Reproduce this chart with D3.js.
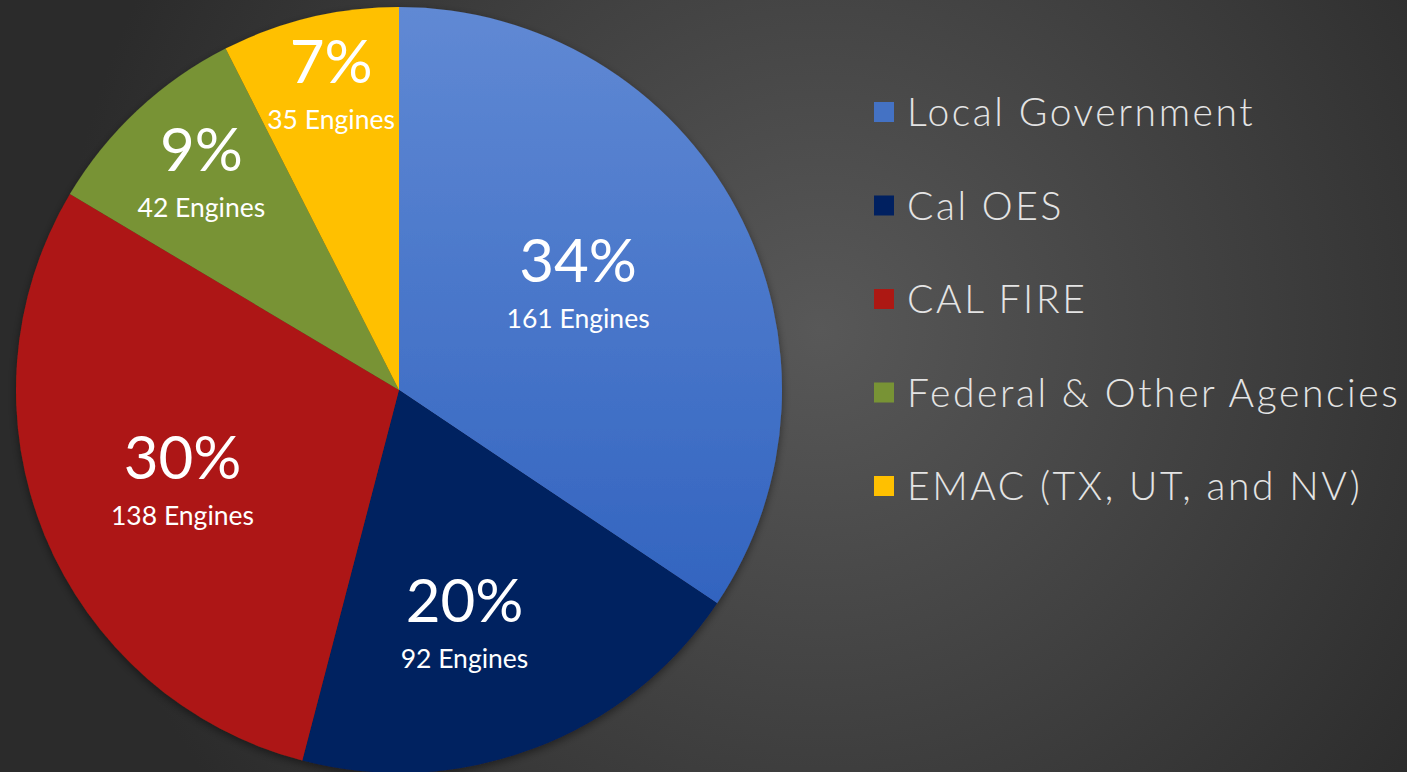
<!DOCTYPE html>
<html>
<head>
<meta charset="utf-8">
<script src="https://cdn.jsdelivr.net/npm/d3@7"></script>
<style>
    html, body { margin: 0; padding: 0; background: #333; overflow: hidden; }
    #chart-area { width: 1407px; height: 772px; }
</style>
</head>
<body>
<div id="chart-area"></div>
<script>

// Engines deployed by agency type
let categories = ["Local Government", "Cal OES", "CAL FIRE", "Federal & Other Agencies", "EMAC (TX, UT, and NV)"];
let engines = [161, 92, 138, 42, 35];
let percentLabels = ["34%", "20%", "30%", "9%", "7%"];
let colors = ["#4472c4", "#002060", "#ad1813", "#789335", "#ffc000"];

// label placement (fraction of radius, angle nudge in degrees) - hand tuned
let labelRadius = [0.546, 0.629, 0.611, 0.770, 0.822];
let labelNudge = [-3, 5, 0, 1, 1];

let width = 1407, height = 772;
let cx = 399, cy = 390, radius = 383;

let svg = d3.select("#chart-area").append("svg")
    .attr("width", width)
    .attr("height", height);

let defs = svg.append("defs");

// background gradient
let bg = defs.append("radialGradient")
    .attr("id", "bg-grad")
    .attr("gradientUnits", "userSpaceOnUse")
    .attr("cx", 820).attr("cy", 330).attr("r", 760);
bg.append("stop").attr("offset", "0%").attr("stop-color", "#585858");
bg.append("stop").attr("offset", "100%").attr("stop-color", "#2b2b2b");

svg.append("rect")
    .attr("width", width)
    .attr("height", height)
    .attr("fill", "url(#bg-grad)");

// blue slice has a soft vertical gradient
let blueGrad = defs.append("linearGradient")
    .attr("id", "blue-grad")
    .attr("gradientUnits", "userSpaceOnUse")
    .attr("x1", 0).attr("y1", -radius).attr("x2", 0).attr("y2", radius * 0.6);
blueGrad.append("stop").attr("offset", "0%").attr("stop-color", "#6089d4");
blueGrad.append("stop").attr("offset", "100%").attr("stop-color", "#3163bf");

let shadow = defs.append("filter")
    .attr("id", "pie-shadow")
    .attr("x", "-10%").attr("y", "-10%").attr("width", "120%").attr("height", "120%");
shadow.append("feDropShadow")
    .attr("dx", 0).attr("dy", 3).attr("stdDeviation", 4)
    .attr("flood-color", "#000").attr("flood-opacity", 0.45);

let pie = d3.pie()
    .sort(null)
    .value(d => d);

let arc = d3.arc()
    .innerRadius(0)
    .outerRadius(radius);

let arcs = pie(engines);

let g = svg.append("g")
    .attr("transform", "translate(" + cx + "," + cy + ")");

g.append("g")
    .attr("filter", "url(#pie-shadow)")
    .selectAll("path")
    .data(arcs)
    .enter().append("path")
    .attr("d", arc)
    .attr("fill", (d, i) => i === 0 ? "url(#blue-grad)" : colors[i]);

// slice labels
let labels = g.selectAll(".slice-label")
    .data(arcs)
    .enter().append("g")
    .attr("class", "slice-label")
    .attr("transform", function (d, i) {
        let a = (d.startAngle + d.endAngle) / 2 + labelNudge[i] * Math.PI / 180;
        let r = radius * labelRadius[i];
        return "translate(" + (r * Math.sin(a)) + "," + (-r * Math.cos(a)) + ")";
    });

labels.append("text")
    .attr("text-anchor", "middle")
    .attr("font-family", "Lato, 'Open Sans', sans-serif")
    .attr("font-size", 60)
    .attr("fill", "#fff")
    .text((d, i) => percentLabels[i]);

labels.append("text")
    .attr("text-anchor", "middle")
    .attr("y", 46)
    .attr("font-family", "Lato, 'Open Sans', sans-serif")
    .attr("font-size", 26.5)
    .attr("fill", "#fff")
    .text((d, i) => engines[i] + " Engines");

// legend
let legend = svg.append("g")
    .attr("transform", "translate(874,112)");

let items = legend.selectAll(".legend-item")
    .data(categories)
    .enter().append("g")
    .attr("class", "legend-item")
    .attr("transform", (d, i) => "translate(0," + (i * 93.5) + ")");

items.append("rect")
    .attr("x", 0)
    .attr("y", -10)
    .attr("width", 20)
    .attr("height", 20)
    .attr("fill", (d, i) => colors[i]);

items.append("text")
    .attr("x", 33)
    .attr("y", 14)
    .attr("font-family", "Lato, 'Open Sans', sans-serif")
    .attr("font-weight", 300)
    .attr("font-size", 39)
    .attr("letter-spacing", "2.6px")
    .attr("fill", "#e4e4e4")
    .text(d => d);

</script>
</body>
</html>
